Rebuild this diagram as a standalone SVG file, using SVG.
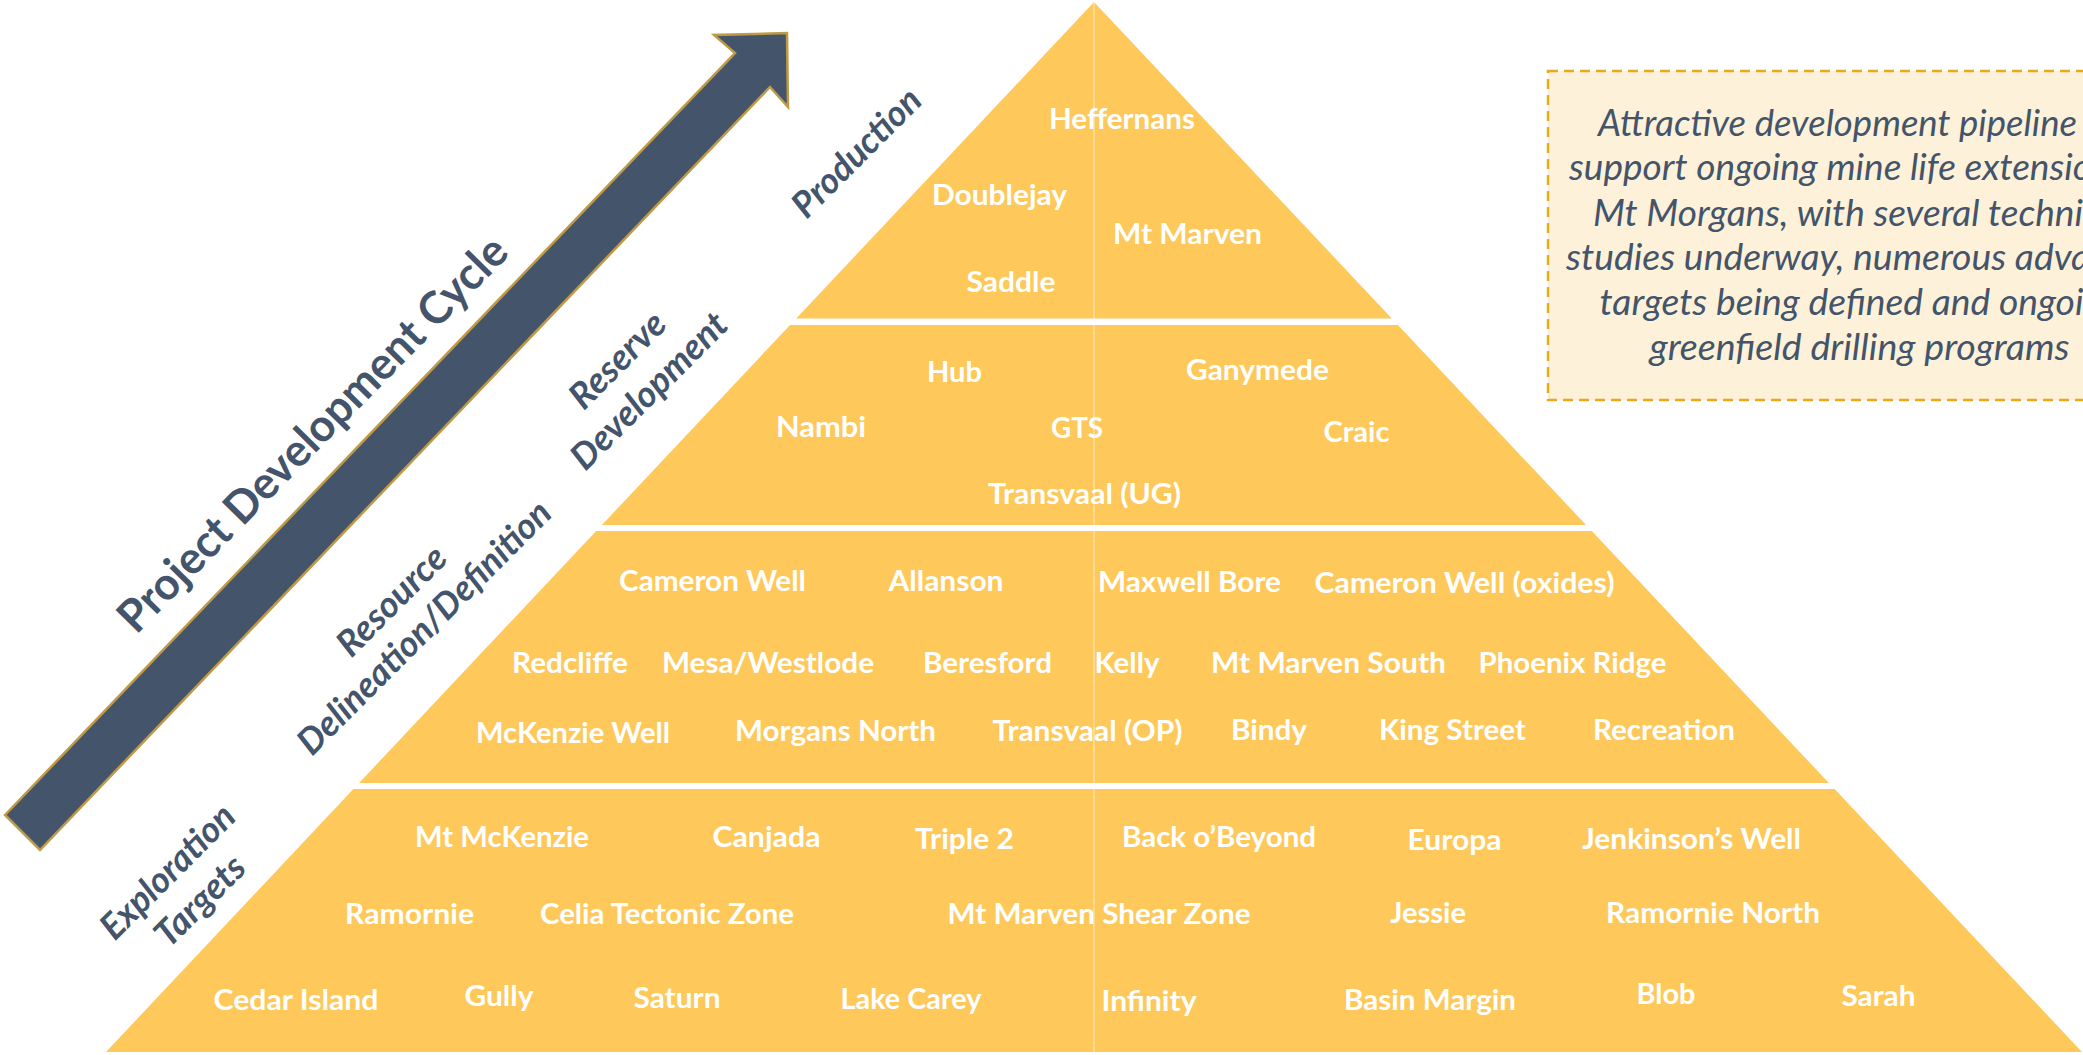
<svg xmlns="http://www.w3.org/2000/svg" width="2083" height="1055" viewBox="0 0 2083 1055">
<style>
.tier{fill:#FEC95A;}
.lbl{font-family:Lato,"Open Sans","Liberation Sans",sans-serif;font-weight:700;font-size:28px;fill:#FFFFFF;}
.stage{font-family:Lato,"Open Sans","Liberation Sans",sans-serif;font-weight:700;font-style:italic;font-size:36px;fill:#44546A;text-anchor:middle;}
.title{font-family:Lato,"Open Sans","Liberation Sans",sans-serif;font-weight:700;font-size:45px;fill:#44546A;text-anchor:middle;}
.note{font-family:Lato,"Open Sans","Liberation Sans",sans-serif;font-style:italic;font-size:36px;fill:#44546A;}
</style>
<rect width="2083" height="1055" fill="#FFFFFF"/>

<g id="callout">
<rect x="1548" y="71" width="560" height="329" fill="#FDF2D9" stroke="#E8AA17" stroke-width="2.5" stroke-dasharray="10 6"/>
<text class="note" x="1598" y="136" textLength="479" lengthAdjust="spacingAndGlyphs">Attractive development pipeline</text>
<text class="note" x="1569" y="180" textLength="523" lengthAdjust="spacingAndGlyphs">support ongoing mine life extensio</text>
<text class="note" x="1593" y="225.5" textLength="490" lengthAdjust="spacingAndGlyphs">Mt Morgans, with several techni</text>
<text class="note" x="1566" y="270" textLength="524" lengthAdjust="spacingAndGlyphs">studies underway, numerous adva</text>
<text class="note" x="1599.5" y="315" textLength="484" lengthAdjust="spacingAndGlyphs">targets being defined and ongoi</text>
<text class="note" x="1649.5" y="360" textLength="420" lengthAdjust="spacingAndGlyphs">greenfield drilling programs</text>
</g>

<g id="tier-production">
<polygon class="tier" points="1094,2 1391.8,318.5 796.2,318.5"/>
<text class="lbl" x="1049" y="129" textLength="146" lengthAdjust="spacingAndGlyphs">Heffernans</text>
<text class="lbl" x="932" y="205" textLength="135" lengthAdjust="spacingAndGlyphs">Doublejay</text>
<text class="lbl" x="1113" y="244" textLength="149" lengthAdjust="spacingAndGlyphs">Mt Marven</text>
<text class="lbl" x="966.5" y="292" textLength="89" lengthAdjust="spacingAndGlyphs">Saddle</text>
</g>

<g id="tier-reserve">
<polygon class="tier" points="790.1,325 1397.9,325 1586.1,525 601.9,525"/>
<text class="lbl" x="927" y="382" textLength="55" lengthAdjust="spacingAndGlyphs">Hub</text>
<text class="lbl" x="1186" y="380" textLength="143" lengthAdjust="spacingAndGlyphs">Ganymede</text>
<text class="lbl" x="776" y="437" textLength="90" lengthAdjust="spacingAndGlyphs">Nambi</text>
<text class="lbl" x="1051" y="438" textLength="52" lengthAdjust="spacingAndGlyphs">GTS</text>
<text class="lbl" x="1323.5" y="441.5" textLength="66" lengthAdjust="spacingAndGlyphs">Craic</text>
<text class="lbl" x="988" y="503.5" textLength="193" lengthAdjust="spacingAndGlyphs">Transvaal (UG)</text>
</g>

<g id="tier-resource">
<polygon class="tier" points="596.2,531 1591.8,531 1828.9,783 359.1,783"/>
<text class="lbl" x="619" y="590.5" textLength="187" lengthAdjust="spacingAndGlyphs">Cameron Well</text>
<text class="lbl" x="888.5" y="591" textLength="115" lengthAdjust="spacingAndGlyphs">Allanson</text>
<text class="lbl" x="1098" y="591.5" textLength="183" lengthAdjust="spacingAndGlyphs">Maxwell Bore</text>
<text class="lbl" x="1314.5" y="592.5" textLength="300" lengthAdjust="spacingAndGlyphs">Cameron Well (oxides)</text>
<text class="lbl" x="512" y="672.5" textLength="116" lengthAdjust="spacingAndGlyphs">Redcliffe</text>
<text class="lbl" x="662" y="672.5" textLength="212" lengthAdjust="spacingAndGlyphs">Mesa/Westlode</text>
<text class="lbl" x="923" y="672.5" textLength="129" lengthAdjust="spacingAndGlyphs">Beresford</text>
<text class="lbl" x="1094.5" y="672.5" textLength="65" lengthAdjust="spacingAndGlyphs">Kelly</text>
<text class="lbl" x="1211" y="672.5" textLength="235" lengthAdjust="spacingAndGlyphs">Mt Marven South</text>
<text class="lbl" x="1478.5" y="672.7" textLength="188" lengthAdjust="spacingAndGlyphs">Phoenix Ridge</text>
<text class="lbl" x="476" y="743" textLength="194" lengthAdjust="spacingAndGlyphs">McKenzie Well</text>
<text class="lbl" x="735" y="740.5" textLength="201" lengthAdjust="spacingAndGlyphs">Morgans North</text>
<text class="lbl" x="992.5" y="741" textLength="190" lengthAdjust="spacingAndGlyphs">Transvaal (OP)</text>
<text class="lbl" x="1231" y="740" textLength="76" lengthAdjust="spacingAndGlyphs">Bindy</text>
<text class="lbl" x="1379" y="740" textLength="147" lengthAdjust="spacingAndGlyphs">King Street</text>
<text class="lbl" x="1593" y="740" textLength="142" lengthAdjust="spacingAndGlyphs">Recreation</text>
</g>

<g id="tier-exploration">
<polygon class="tier" points="353.4,789 1834.6,789 2082,1052 106,1052"/>
<text class="lbl" x="415" y="846.7" textLength="174" lengthAdjust="spacingAndGlyphs">Mt McKenzie</text>
<text class="lbl" x="712.5" y="846.7" textLength="108" lengthAdjust="spacingAndGlyphs">Canjada</text>
<text class="lbl" x="915" y="849.4" textLength="99" lengthAdjust="spacingAndGlyphs">Triple 2</text>
<text class="lbl" x="1122" y="847" textLength="194" lengthAdjust="spacingAndGlyphs">Back o’Beyond</text>
<text class="lbl" x="1407.5" y="850" textLength="94" lengthAdjust="spacingAndGlyphs">Europa</text>
<text class="lbl" x="1582" y="848.7" textLength="219" lengthAdjust="spacingAndGlyphs">Jenkinson’s Well</text>
<text class="lbl" x="345" y="923.7" textLength="129" lengthAdjust="spacingAndGlyphs">Ramornie</text>
<text class="lbl" x="540" y="923.7" textLength="254" lengthAdjust="spacingAndGlyphs">Celia Tectonic Zone</text>
<text class="lbl" x="947.5" y="924.4" textLength="303" lengthAdjust="spacingAndGlyphs">Mt Marven Shear Zone</text>
<text class="lbl" x="1390" y="923" textLength="76" lengthAdjust="spacingAndGlyphs">Jessie</text>
<text class="lbl" x="1606" y="923" textLength="214" lengthAdjust="spacingAndGlyphs">Ramornie North</text>
<text class="lbl" x="213.5" y="1009.9" textLength="165" lengthAdjust="spacingAndGlyphs">Cedar Island</text>
<text class="lbl" x="464.5" y="1006" textLength="69" lengthAdjust="spacingAndGlyphs">Gully</text>
<text class="lbl" x="633.5" y="1008" textLength="87" lengthAdjust="spacingAndGlyphs">Saturn</text>
<text class="lbl" x="840.5" y="1008.7" textLength="141" lengthAdjust="spacingAndGlyphs">Lake Carey</text>
<text class="lbl" x="1101.5" y="1010.8" textLength="95" lengthAdjust="spacingAndGlyphs">Infinity</text>
<text class="lbl" x="1344" y="1010.4" textLength="172" lengthAdjust="spacingAndGlyphs">Basin Margin</text>
<text class="lbl" x="1636.5" y="1004.4" textLength="59" lengthAdjust="spacingAndGlyphs">Blob</text>
<text class="lbl" x="1841.5" y="1005.5" textLength="74" lengthAdjust="spacingAndGlyphs">Sarah</text>
</g>

<line x1="1094" y1="2" x2="1094" y2="1052" stroke="#FFFFFF" stroke-opacity="0.55" stroke-width="1.2"/>

<g id="cycle-arrow">
<path d="M5,815 L735,53 L714,35 L787,33 L788,107 L770,87 L40,850 Z" fill="#44546A" stroke="#BF9A46" stroke-width="2.5" stroke-linejoin="miter"/>
<text class="title" transform="translate(323.5,444.7) rotate(-45.5)" textLength="534" lengthAdjust="spacingAndGlyphs">Project Development Cycle</text>
</g>

<g id="stage-production">
<text class="stage" transform="translate(865.3,161.2) rotate(-45)" textLength="166" lengthAdjust="spacingAndGlyphs">Production</text>
</g>
<g id="stage-reserve">
<text class="stage" transform="translate(626.2,368.7) rotate(-45)" textLength="120" lengthAdjust="spacingAndGlyphs">Reserve</text>
<text class="stage" transform="translate(657.8,399.5) rotate(-45)" textLength="205" lengthAdjust="spacingAndGlyphs">Development</text>
</g>
<g id="stage-resource">
<text class="stage" transform="translate(400.3,609.5) rotate(-45)" textLength="139" lengthAdjust="spacingAndGlyphs">Resource</text>
<text class="stage" transform="translate(432.8,636.2) rotate(-45)" textLength="342" lengthAdjust="spacingAndGlyphs">Delineation/Definition</text>
</g>
<g id="stage-exploration">
<text class="stage" transform="translate(176.2,880.3) rotate(-45)" textLength="174" lengthAdjust="spacingAndGlyphs">Exploration</text>
<text class="stage" transform="translate(208.7,909.5) rotate(-45)" textLength="112" lengthAdjust="spacingAndGlyphs">Targets</text>
</g>
</svg>
